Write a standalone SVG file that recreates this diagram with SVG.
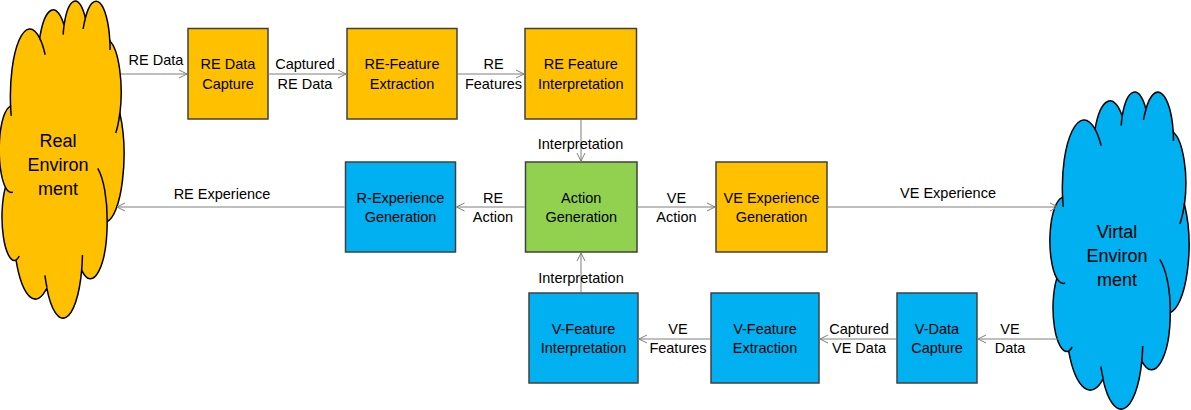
<svg xmlns="http://www.w3.org/2000/svg" width="1191" height="410" viewBox="0 0 1191 410">
<defs>
<style>
.box{stroke:#404040;stroke-width:1.5}
.orange{fill:#FFC000}
.blue{fill:#00B0F0}
.green{fill:#92D050}
.cloud{stroke:#000;stroke-width:1.5}
.inner{fill:none;stroke:#000;stroke-width:1.5}
text{font-family:"Liberation Sans",Arial,sans-serif;font-size:14.5px;fill:#000;text-anchor:middle}
.big{font-size:18px}
.conn{fill:none;stroke:#7F7F7F;stroke-width:1;marker-end:url(#arr)}
</style>
<marker id="arr" markerUnits="userSpaceOnUse" markerWidth="10" markerHeight="10" refX="8" refY="4" orient="auto" viewBox="0 0 10 8">
<path d="M0,0 L8,4 L0,8" fill="none" stroke="#7F7F7F" stroke-width="1"/>
</marker>
<path id="cloudOuter" vector-effect="non-scaling-stroke" d="M3900 14370 A6753 9190 0 0 1 14006 5203 A5333 7267 0 0 1 22458 3435 A4365 5945 0 0 1 29837 2486 A4857 6595 0 0 1 38321 5583 A5333 7273 0 0 1 41821 15467 A6775 9220 0 0 1 37406 30207 A5785 7867 0 0 1 28557 36817 A6752 9215 0 0 1 16480 39266 A7720 10543 0 0 1 5803 35471 A4360 5918 0 0 1 2114 25546 A4345 5945 0 0 1 3864 14503 Z"/>
<path id="cloudInner" vector-effect="non-scaling-stroke" d="M4693 26177 A4345 5945 0 0 1 2114 25546 M6928 34899 A4360 5918 0 0 1 5803 35471 M16478 39090 A6752 9215 0 0 1 15813 37528 M28827 34751 A6752 9215 0 0 1 28557 36817 M34129 22954 A5785 7867 0 0 1 37406 30207 M41798 15354 A5333 7273 0 0 1 40372 18144 M38324 5426 A4857 6595 0 0 1 38397 6822 M29078 3952 A4857 6595 0 0 1 29837 2486 M22141 4720 A4365 5945 0 0 1 22458 3435 M14006 5203 A6753 9190 0 0 1 15907 7463 M4127 15789 A6753 9190 0 0 1 3900 14370"/>
</defs>
<rect width="1191" height="410" fill="#fff"/>

<g id="real-environment">
<g transform="translate(-0.7,0) scale(0.0028843,0.0073356)">
<use href="#cloudOuter" class="cloud orange"/>
<use href="#cloudInner" class="inner"/>
</g>
<text class="big" x="58" y="146.5">Real</text>
<text class="big" x="58" y="170.5">Environ</text>
<text class="big" x="58" y="194.5">ment</text>
</g>

<g id="virtual-environment">
<g transform="translate(1050,91) scale(0.0032153,0.0073356)">
<use href="#cloudOuter" class="cloud blue"/>
<use href="#cloudInner" class="inner"/>
</g>
<text class="big" x="1117" y="238">Virtal</text>
<text class="big" x="1117" y="261.5">Environ</text>
<text class="big" x="1117" y="285.5">ment</text>
</g>

<g id="re-data-capture">
<rect class="box orange" x="188" y="28.5" width="80" height="90.5"/>
<text x="228" y="69">RE Data</text>
<text x="228" y="88.5">Capture</text>
</g>
<g id="re-feature-extraction">
<rect class="box orange" x="347" y="28.5" width="110" height="90.5"/>
<text x="402" y="69">RE-Feature</text>
<text x="402" y="88.5">Extraction</text>
</g>
<g id="re-feature-interpretation">
<rect class="box orange" x="525" y="28.5" width="111.5" height="90.5"/>
<text x="580.75" y="69">RE Feature</text>
<text x="580.75" y="88.5">Interpretation</text>
</g>
<g id="r-experience-generation">
<rect class="box blue" x="345.5" y="162" width="110" height="90"/>
<text x="400.5" y="203">R-Experience</text>
<text x="400.5" y="222">Generation</text>
</g>
<g id="action-generation">
<rect class="box green" x="525.5" y="162" width="111.5" height="90"/>
<text x="581.25" y="203">Action</text>
<text x="581.25" y="222">Generation</text>
</g>
<g id="ve-experience-generation">
<rect class="box orange" x="716" y="162" width="111" height="90"/>
<text x="771.5" y="203">VE Experience</text>
<text x="771.5" y="222">Generation</text>
</g>
<g id="v-feature-interpretation">
<rect class="box blue" x="529" y="293" width="109" height="90"/>
<text x="583.5" y="334">V-Feature</text>
<text x="583.5" y="353">Interpretation</text>
</g>
<g id="v-feature-extraction">
<rect class="box blue" x="711" y="293" width="108" height="90"/>
<text x="765" y="334">V-Feature</text>
<text x="765" y="353">Extraction</text>
</g>
<g id="v-data-capture">
<rect class="box blue" x="897" y="293" width="80" height="90"/>
<text x="937" y="334">V-Data</text>
<text x="937" y="353">Capture</text>
</g>

<g id="connectors">
<line class="conn" x1="121" y1="74" x2="187" y2="74"/>
<line class="conn" x1="268.8" y1="74" x2="346" y2="74"/>
<line class="conn" x1="457.8" y1="74" x2="524" y2="74"/>
<line class="conn" x1="581" y1="119.8" x2="581" y2="161"/>
<line class="conn" x1="524.7" y1="207" x2="456.5" y2="207"/>
<line class="conn" x1="637.8" y1="207" x2="715" y2="207"/>
<line class="conn" x1="344.7" y1="207" x2="117" y2="207"/>
<line class="conn" x1="827.8" y1="207" x2="1058" y2="207"/>
<line class="conn" x1="581" y1="292.2" x2="581" y2="253"/>
<line class="conn" x1="710.2" y1="339" x2="639" y2="339"/>
<line class="conn" x1="896.2" y1="339" x2="820" y2="339"/>
<line class="conn" x1="1059" y1="339" x2="978" y2="339"/>
<text x="156" y="65">RE Data</text>
<text x="305" y="69">Captured</text>
<text x="305" y="88.5">RE Data</text>
<text x="493.5" y="69">RE</text>
<text x="493.5" y="88.5">Features</text>
<text x="580.5" y="149">Interpretation</text>
<text x="493" y="203">RE</text>
<text x="493" y="222">Action</text>
<text x="676.5" y="203">VE</text>
<text x="676.5" y="222">Action</text>
<text x="222" y="198.5">RE Experience</text>
<text x="948" y="198">VE Experience</text>
<text x="581" y="283">Interpretation</text>
<text x="678" y="334">VE</text>
<text x="678" y="353">Features</text>
<text x="859" y="334">Captured</text>
<text x="859" y="353">VE Data</text>
<text x="1010" y="334">VE</text>
<text x="1010" y="353">Data</text>
</g>
</svg>
